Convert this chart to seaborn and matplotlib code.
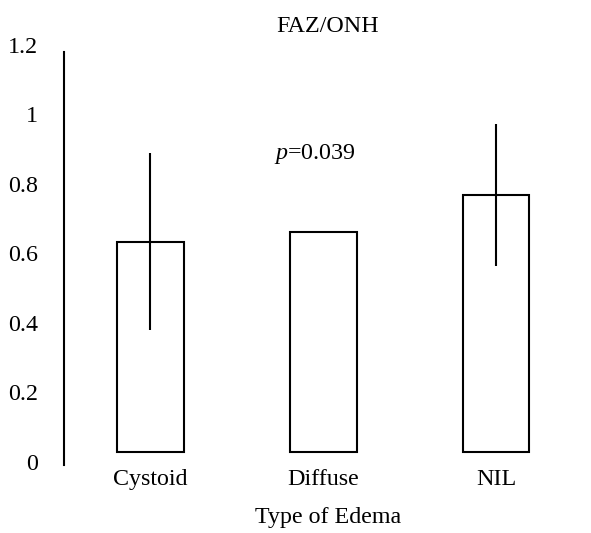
import matplotlib
matplotlib.use("Agg")
import matplotlib.pyplot as plt
import seaborn as sns
import pandas as pd

categories = ["Cystoid", "Diffuse", "NIL"]
values = [0.633, 0.662, 0.768]
errors = [0.255, 0.0, 0.205]
bar_base = 0.029
yticks = [0, 0.2, 0.4, 0.6, 0.8, 1.0, 1.2]
ytick_labels = ["0", "0.2", "0.4", "0.6", "0.8", "1", "1.2"]
title = "FAZ/ONH"
xlabel = "Type of Edema"
p_text = "$\\it{p}$=0.039"

sns.set_style("white")
plt.rcParams["font.family"] = ["Liberation Serif", "DejaVu Serif"]
plt.rcParams["mathtext.fontset"] = "custom"
plt.rcParams["mathtext.it"] = "Liberation Serif:italic"
plt.rcParams["mathtext.rm"] = "Liberation Serif"
for k in ["text.color", "xtick.color", "ytick.color", "axes.labelcolor"]:
    plt.rcParams[k] = "black"

FS = 17.3
fig = plt.figure(figsize=(5.91, 5.33), dpi=100)
ax = fig.add_axes([0.1078, 0.1272, 0.8778, 0.7948])

df = pd.DataFrame({"cat": categories, "val": values})
sns.barplot(data=df, x="cat", y="val", ax=ax, width=0.387,
            color="white", edgecolor="black", linewidth=1.5, errorbar=None)
for p, v in zip(ax.patches, values):
    p.set_y(bar_base)
    p.set_height(v - bar_base)
    p.set_facecolor("white")

for i, (v, e) in enumerate(zip(values, errors)):
    if e > 0:
        ax.errorbar(i, v, yerr=e, fmt="none", ecolor="black", elinewidth=1.5,
                    capsize=0, zorder=5)

ax.set_xlim(-0.5, 2.5)
ax.set_ylim(-0.01, 1.21)
ax.set_yticks(yticks)
ax.set_yticklabels(ytick_labels, fontsize=FS, color="black")
ax.tick_params(axis="y", length=0, pad=18.5, colors="black")
ax.tick_params(axis="x", length=0, pad=2.5, labelsize=FS, colors="black")
ax.set_xlabel("")
ax.set_ylabel("")
for s in ["top", "right", "bottom"]:
    ax.spines[s].set_visible(False)
ax.spines["left"].set_color("black")
ax.spines["left"].set_linewidth(1.5)
ax.spines["left"].set_bounds(-0.01, 1.18)

ax.text(0.954, 0.871, p_text, fontsize=FS, ha="center", va="baseline", color="black")
fig.text(0.554, 0.9405, title, fontsize=FS, ha="center", va="baseline", color="black")
fig.text(0.555, 0.0182, xlabel, fontsize=FS, ha="center", va="baseline", color="black")

fig.savefig("out.png", dpi=100, facecolor="white")
